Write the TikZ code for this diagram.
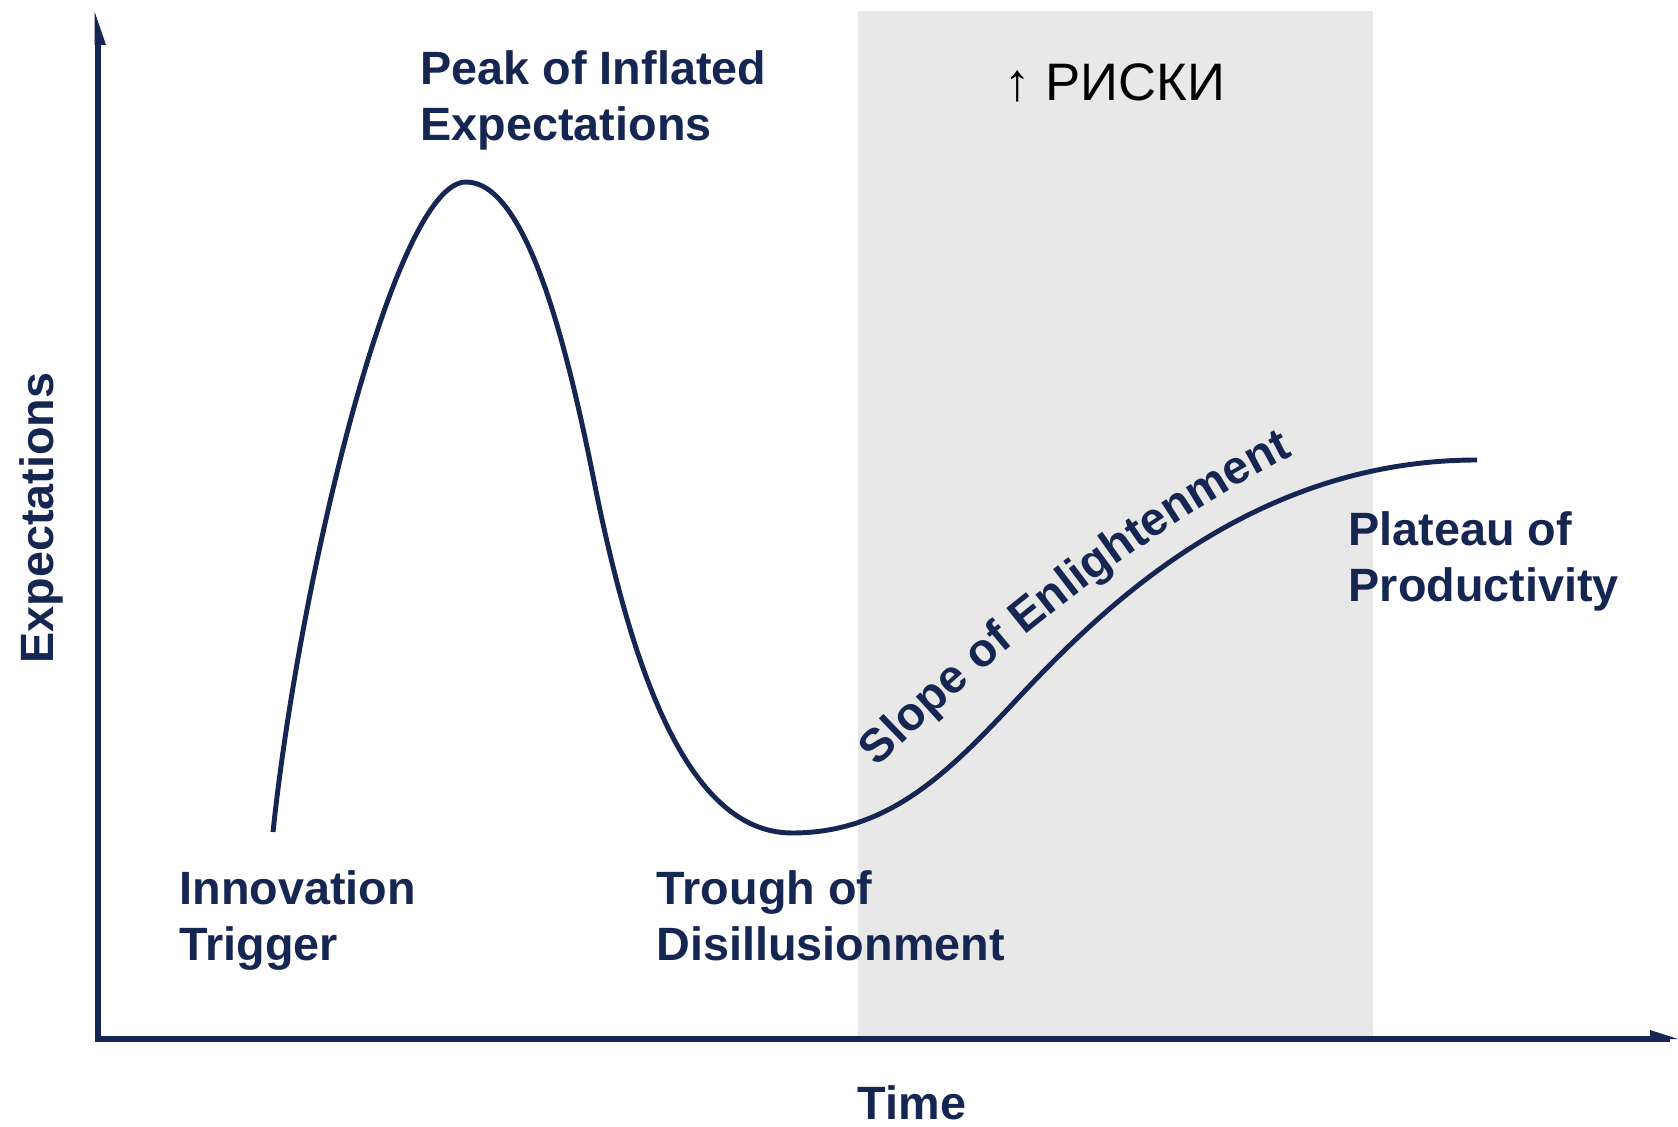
\documentclass[tikz,border=0pt]{standalone}
\usepackage{fontspec}
\setmainfont{Liberation Sans}
\usetikzlibrary{positioning,calc,decorations.text,backgrounds}
\definecolor{gnavy}{RGB}{22,38,82}
\definecolor{bandc}{RGB}{232,232,232}
\newcommand{\hypefont}{\fontsize{13.3}{16}\selectfont\bfseries}

\begin{document}
\begin{tikzpicture}
\tikzstyle{phase}=[anchor=north west,inner sep=0pt,align=left,text=gnavy,font=\hypefont];
\tikzstyle{axlbl}=[anchor=base,inner sep=0pt,text=gnavy,font=\hypefont];
\tikzstyle{curve}=[gnavy,line width=1.4pt];

\useasboundingbox (0,0) rectangle (16.78,11.26);

% risk zone
\fill[bandc] (8.58,0.87) rectangle (13.73,11.15);
\node[anchor=base,inner sep=0pt,font=\fontsize{15}{18}\selectfont] (risk) at (11.15,10.25) {↑ РИСКИ};

\begin{scope}
        \coordinate (origin) at (0.98,0.87);
        \coordinate (ytop) at (0.98,10.95);
        \coordinate (xend) at (16.70,0.87);
        \draw[gnavy,line width=1.9pt] (ytop) -- (origin) -- (xend);
        \fill[gnavy] (0.947,11.14) -- (1.06,10.81) -- (0.947,10.81) -- cycle;
        \fill[gnavy] (16.50,0.96) -- (16.78,0.87) -- (16.50,0.87) -- cycle;

        \node[axlbl,rotate=90] (ylab) at (0.53,6.08) {Expectations};
        \node[axlbl] (xlab) at (9.12,0.07) {Time};
\end{scope}

\begin{scope}
        \coordinate (trig) at (2.73,2.94);
        \coordinate (peak) at (4.66,9.44);
        \coordinate (fall) at (5.94,6.45);
        \coordinate (trough) at (7.92,2.93);
        \coordinate (rise) at (10.2,4.3);
        \coordinate (plat) at (14.77,6.66);

        \draw[curve] (trig) .. controls (3.0,5.5) and (3.95,9.44) .. (peak)
            .. controls (5.25,9.44) and (5.65,7.9) .. (fall)
            .. controls (6.30,4.65) and (6.85,2.93) .. (trough)
            .. controls (8.9,2.93) and (9.5,3.55) .. (rise)
            .. controls (11.0,5.15) and (12.5,6.66) .. (plat);

        \path[decorate,decoration={text along path,text color=gnavy,
            text={|\hypefont|Slope of Enlightenment}}]
            (8.78,3.58) .. controls (9.6,4.42) and (11.4,5.98) .. (13.1,6.79);

        \node[phase] (peaklbl) at (4.20,10.76) {Peak of Inflated\\Expectations};
        \node[phase] (triglbl) at (1.79,2.56) {Innovation\\Trigger};
        \node[phase] (troughlbl) at (6.56,2.56) {Trough of\\Disillusionment};
        \node[phase] (platlbl) at (13.48,6.15) {Plateau of\\Productivity};
\end{scope}

\end{tikzpicture}
\end{document}
